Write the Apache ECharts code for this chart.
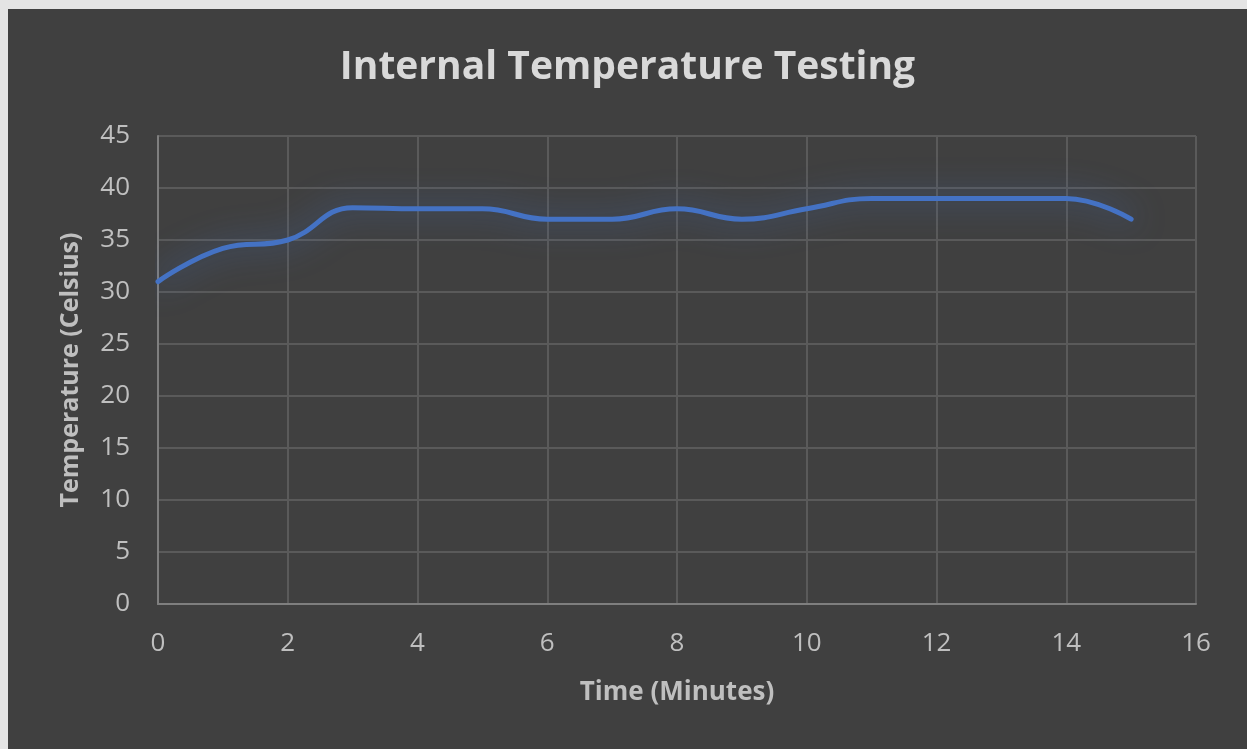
<!DOCTYPE html>
<html>
<head>
<meta charset="utf-8">
<script src="https://cdn.jsdelivr.net/npm/echarts@6/dist/echarts.min.js"></script>
<style>
html,body{margin:0;padding:0;background:#e4e4e4;width:1247px;height:749px;overflow:hidden;}
#chart{position:absolute;left:8px;top:9px;width:1239px;height:740px;}
</style>
</head>
<body>
<div id="chart"></div>
<script>
const titleText = 'Internal Temperature Testing';
const xName = 'Time (Minutes)';
const yName = 'Temperature (Celsius)';
const minutes = [0,1,2,3,4,5,6,7,8,9,10,11,12,13,14,15];
const temperatures = [31,34.2,35,38.1,38,38,37,37,38,37,38,39,39,39,39,37];

const chart = echarts.init(document.getElementById('chart'));
const font = '"Open Sans", "Noto Sans", sans-serif';
chart.setOption({
  backgroundColor: '#404040',
  animation: false,
  title: {
    text: titleText, left: 'center', top: 34,
    textStyle: {color: '#d9d9d9', fontSize: 39, fontWeight: 'bold', fontFamily: font}
  },
  grid: {left: 150, right: 51, top: 127, bottom: 145},
  xAxis: {
    type: 'value', min: 0, max: 16, interval: 2,
    name: xName, nameLocation: 'middle', nameGap: 76,
    nameTextStyle: {color: '#bfbfbf', fontSize: 26, fontWeight: 'bold', fontFamily: font},
    axisLine: {show: true, lineStyle: {color: '#7f7f7f', width: 2}},
    axisTick: {show: false},
    axisLabel: {color: '#bfbfbf', fontSize: 26, margin: 27, fontFamily: font},
    splitLine: {show: true, lineStyle: {color: '#5a5a5a', width: 2}}
  },
  yAxis: {
    type: 'value', min: 0, max: 45, interval: 5,
    name: yName, nameLocation: 'middle', nameGap: 75, nameRotate: 90,
    nameTextStyle: {color: '#bfbfbf', fontSize: 25, fontWeight: 'bold', fontFamily: font},
    axisLine: {show: true, lineStyle: {color: '#7f7f7f', width: 2}},
    axisTick: {show: false},
    axisLabel: {color: '#bfbfbf', fontSize: 26, margin: 28, fontFamily: font},
    splitLine: {show: true, lineStyle: {color: '#5a5a5a', width: 2}}
  },
  series: [{
    type: 'line',
    data: minutes.map((m, i) => [m, temperatures[i]]),
    smooth: 0.45,
    showSymbol: false,
    lineStyle: {color: '#4472c4', width: 5, shadowColor: 'rgba(68,114,196,0.8)', shadowBlur: 32, cap: 'round'}
  }]
});
</script>
</body>
</html>
